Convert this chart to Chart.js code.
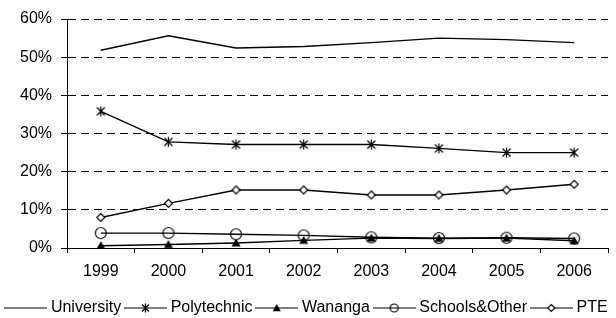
<!DOCTYPE html>
<html>
<head>
<meta charset="utf-8">
<script src="https://cdn.jsdelivr.net/npm/chart.js@4.4.1/dist/chart.umd.min.js"></script>
<style>
  html, body { margin: 0; padding: 0; background: #fff; }
  #wrap { width: 616px; height: 318px; }
</style>
</head>
<body>
<div id="wrap"><canvas id="myChart"></canvas></div>
<script>
const years = ['1999', '2000', '2001', '2002', '2003', '2004', '2005', '2006'];
const university = [51.8, 55.6, 52.4, 52.8, 53.8, 55.0, 54.6, 53.8];
const polytechnic = [35.8, 27.8, 27.1, 27.1, 27.1, 26.1, 25.0, 25.0];
const wananga = [0.6, 0.9, 1.3, 2.0, 2.6, 2.5, 2.6, 1.9];
const schoolsOther = [3.9, 3.9, 3.6, 3.3, 2.8, 2.6, 2.7, 2.5];
const pte = [8.0, 11.7, 15.2, 15.2, 13.9, 13.9, 15.2, 16.7];
const seriesNames = ['University', 'Polytechnic', 'Wananga', 'Schools&Other', 'PTE'];

const FONT = "'Liberation Sans', Arial, sans-serif";

// draw one marker shape into a 2d context
function drawMarker(ctx, kind, cx, cy, s) {
    ctx.strokeStyle = '#000';
    ctx.fillStyle = '#000';
    ctx.lineWidth = 1.2;
    ctx.beginPath();
    if (kind === 'star') {
        ctx.moveTo(cx - s, cy - s); ctx.lineTo(cx + s, cy + s);
        ctx.moveTo(cx - s, cy + s); ctx.lineTo(cx + s, cy - s);
        ctx.moveTo(cx, cy - s - 1); ctx.lineTo(cx, cy + s + 1);
        ctx.stroke();
    } else if (kind === 'triangle') {
        ctx.moveTo(cx, cy - s);
        ctx.lineTo(cx + s, cy + s * 0.8);
        ctx.lineTo(cx - s, cy + s * 0.8);
        ctx.closePath();
        ctx.fill();
    } else if (kind === 'circle') {
        ctx.arc(cx, cy, s, 0, Math.PI * 2);
        ctx.stroke();
    } else if (kind === 'diamond') {
        ctx.moveTo(cx, cy - s); ctx.lineTo(cx + s, cy);
        ctx.lineTo(cx, cy + s); ctx.lineTo(cx - s, cy);
        ctx.closePath();
        ctx.fillStyle = '#fff';
        ctx.fill();
        ctx.stroke();
    }
}

function markerCanvas(kind, s) {
    const size = Math.ceil(s * 2 + 5);
    const c = document.createElement('canvas');
    c.width = size; c.height = size;
    drawMarker(c.getContext('2d'), kind, size / 2, size / 2, s);
    return c;
}

// legend icon: short line with the marker in the middle
function legendCanvas(kind, s, w) {
    const c = document.createElement('canvas');
    c.width = w; c.height = 14;
    const ctx = c.getContext('2d');
    ctx.strokeStyle = '#000';
    ctx.lineWidth = 1.2;
    ctx.beginPath();
    ctx.moveTo(0, 7); ctx.lineTo(w, 7);
    ctx.stroke();
    if (kind) drawMarker(ctx, kind, w / 2, 7, s);
    return c;
}

const LEG_BOX = 34.5;
const LEG_W = 43;
const legendIcons = [
    legendCanvas(null, 0, LEG_W),
    legendCanvas('star', 3.5, LEG_W),
    legendCanvas('triangle', 4, LEG_W),
    legendCanvas('circle', 4, LEG_W),
    legendCanvas('diamond', 3.5, LEG_W)
];

function series(label, values, marker) {
    return {
        label: label,
        data: values,
        borderColor: '#000',
        backgroundColor: '#000',
        borderWidth: 1.4,
        tension: 0,
        pointStyle: marker || false,
        pointRadius: marker ? 3 : 0,
        pointHoverRadius: marker ? 3 : 0
    };
}

const data = {
    labels: years,
    datasets: [
        series(seriesNames[0], university, null),
        series(seriesNames[1], polytechnic, markerCanvas('star', 4)),
        series(seriesNames[2], wananga, markerCanvas('triangle', 4.5)),
        series(seriesNames[3], schoolsOther, markerCanvas('circle', 5.5)),
        series(seriesNames[4], pte, markerCanvas('diamond', 4))
    ]
};

const config = {
    type: 'line',
    data: data,
    options: {
        responsive: true,
        maintainAspectRatio: false,
        animation: false,
        events: [],
        layout: { padding: { top: 19, left: 0, right: 0, bottom: -8 } },
        plugins: {
            tooltip: { enabled: false },
            legend: {
                position: 'bottom',
                labels: {
                    usePointStyle: true,
                    pointStyleWidth: LEG_BOX,
                    padding: 7,
                    color: '#000',
                    font: { family: FONT, size: 16 },
                    generateLabels: function (chart) {
                        return chart.data.datasets.map(function (ds, i) {
                            return {
                                text: ds.label,
                                pointStyle: legendIcons[i],
                                datasetIndex: i,
                                hidden: false,
                                lineWidth: 0,
                                strokeStyle: 'rgba(0,0,0,0)',
                                fillStyle: 'rgba(0,0,0,0)',
                                fontColor: '#000'
                            };
                        });
                    }
                }
            }
        },
        scales: {
            x: {
                type: 'category',
                offset: true,
                grid: {
                    offset: true,
                    drawOnChartArea: false,
                    drawTicks: true,
                    tickLength: 5,
                    color: '#000',
                    tickColor: '#000'
                },
                border: { display: true, color: '#000', width: 1 },
                ticks: {
                    color: '#000',
                    font: { family: FONT, size: 16 },
                    padding: 9,
                    autoSkip: false,
                    maxRotation: 0
                },
                afterFit: function (scale) { scale.height = 45; }
            },
            y: {
                min: 0,
                max: 60,
                grid: {
                    color: '#000',
                    lineWidth: 1,
                    tickLength: 6,
                    tickColor: '#000',
                    tickBorderDash: []
                },
                border: { display: true, color: '#000', width: 1, dash: [8, 5] },
                ticks: {
                    stepSize: 10,
                    color: '#000',
                    padding: 9,
                    font: { family: FONT, size: 16 },
                    callback: function (v) { return v + '%'; }
                },
                afterFit: function (scale) { scale.width = 67; }
            },
            yRight: {
                position: 'right',
                display: true,
                grid: { display: false, drawTicks: false },
                border: { display: false },
                ticks: { display: false },
                afterFit: function (scale) { scale.width = 8; }
            }
        }
    }
};

const myChart = new Chart(
    document.getElementById('myChart'),
    config
);
</script>
</body>
</html>
